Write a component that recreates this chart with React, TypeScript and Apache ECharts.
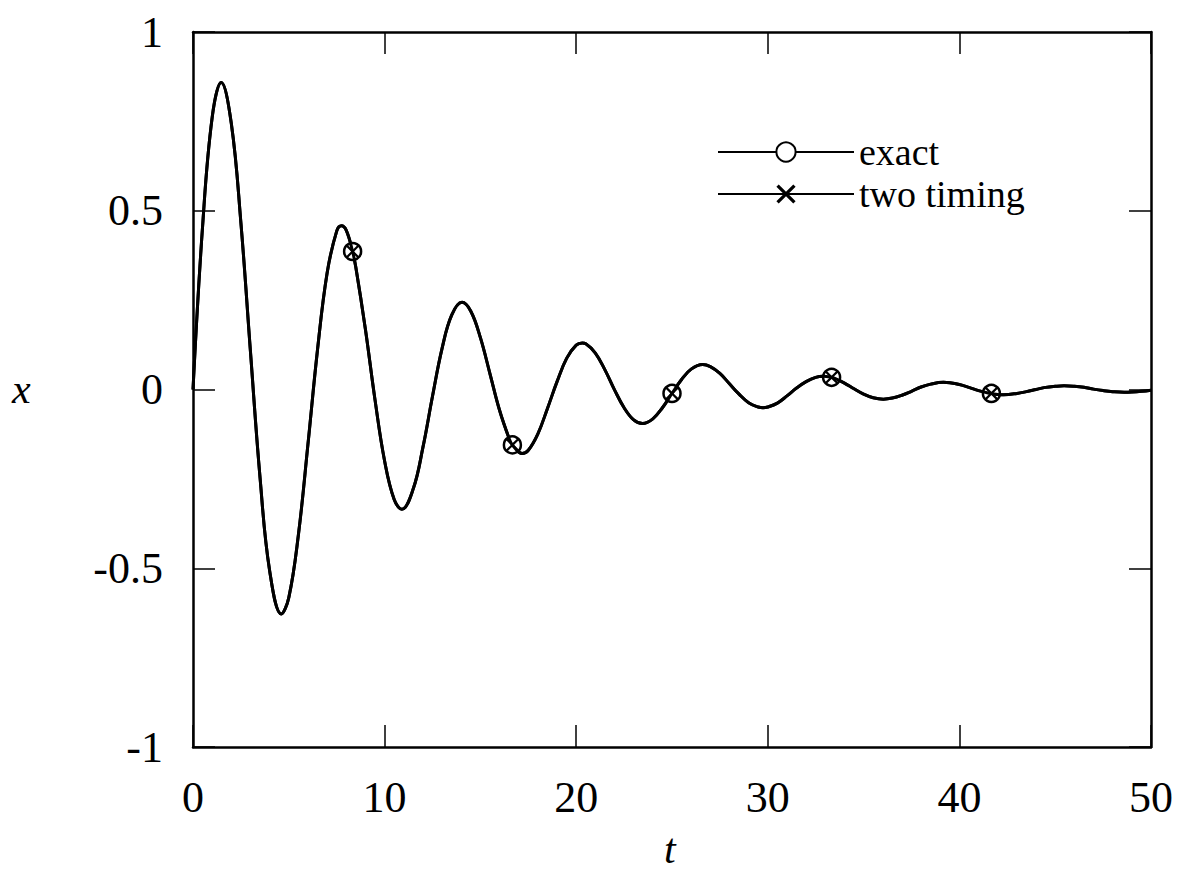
import React, { useEffect, useRef } from "react";
import * as echarts from "echarts";

// time samples (t) and read values of x (extrema included)
const tValues: number[] = [
  0, 0.5, 1, 1.47, 2, 2.5, 3, 3.5, 4, 4.61, 5, 5.5, 6, 6.5, 7, 7.5, 7.75, 8, 8.5, 9, 9.5,
  10, 10.5, 10.9, 11.5, 12, 12.5, 13, 13.5, 14.04, 14.5, 15, 15.5, 16, 16.5, 17.18, 17.5, 18, 18.5, 19, 19.5,
  20, 20.32, 20.5, 21, 21.5, 22, 22.5, 23, 23.46, 24, 24.5, 25, 25.5, 26, 26.6, 27, 27.5, 28, 28.5, 29, 29.5, 29.75,
  30, 30.5, 31, 31.5, 32, 32.5, 32.89, 33.5, 34, 34.5, 35, 35.5, 36.03, 36.5, 37, 37.5, 38, 38.5, 39.17, 39.5,
  40, 40.5, 41, 41.5, 42, 42.31, 43, 43.5, 44, 44.5, 45, 45.46, 46, 46.5, 47, 47.5, 48, 48.6, 49, 49.5, 50,
];
const exactValues: number[] = [
  0, 0.456, 0.761, 0.859, 0.744, 0.466, 0.105, -0.247, -0.507, -0.628, -0.582, -0.407, -0.153, 0.112, 0.326, 0.443, 0.458, 0.445, 0.341, 0.168, -0.029,
  -0.2, -0.308, -0.335, -0.277, -0.162, -0.019, 0.115, 0.208, 0.244, 0.219, 0.145, 0.044, -0.058, -0.137, -0.179, -0.17, -0.124, -0.053, 0.022, 0.087,
  0.124, 0.13, 0.128, 0.102, 0.055, -0.001, -0.051, -0.085, -0.095, -0.082, -0.051, -0.011, 0.028, 0.057, 0.07, 0.064, 0.045, 0.016, -0.013, -0.037, -0.049, -0.051,
  -0.049, -0.038, -0.018, 0.004, 0.022, 0.034, 0.037, 0.031, 0.018, 0.002, -0.013, -0.023, -0.027, -0.024, -0.016, -0.005, 0.007, 0.015, 0.02, 0.019,
  0.014, 0.006, -0.003, -0.01, -0.014, -0.0145, -0.011, -0.006, 0.0, 0.006, 0.009, 0.0105, 0.009, 0.006, 0.001, -0.003, -0.006, -0.0077, -0.007, -0.005, -0.002,
];
const twoTimingValues: number[] = exactValues.slice();

// marker positions
const markerT: number[] = [8.33, 16.67, 25, 33.33, 41.67];
const markerExact: number[] = [0.386, -0.155, -0.011, 0.034, -0.011];
const markerTwoTiming: number[] = [0.386, -0.155, -0.011, 0.034, -0.011];

const xTicks = { min: 0, max: 50, interval: 10 };
const yTicks = { min: -1, max: 1, interval: 0.5 };

const FONT = "'Liberation Serif', 'Times New Roman', serif";

function buildData(vals: number[], mT: number[], mV: number[]) {
  const pts: any[] = [];
  tValues.forEach((t, i) => pts.push({ value: [t, vals[i]], symbol: "none" }));
  mT.forEach((t, i) => pts.push({ value: [t, mV[i]] }));
  pts.sort((a, b) => a.value[0] - b.value[0]);
  return pts;
}

const CROSS =
  "path://M0,1.2 L1.2,0 L5,3.8 L8.8,0 L10,1.2 L6.2,5 L10,8.8 L8.8,10 L5,6.2 L1.2,10 L0,8.8 L3.8,5 Z";

export default function App() {
  const ref = useRef<HTMLDivElement>(null);
  useEffect(() => {
    if (!ref.current) return;
    const chart = echarts.init(ref.current, null, { renderer: "svg" });
    const axisCommon = {
      type: "value" as const,
      axisLine: { show: true, onZero: false, lineStyle: { color: "#000", width: 2.5 } },
      axisTick: { show: true, inside: true, length: 22, lineStyle: { color: "#000", width: 1.5 } },
      splitLine: { show: false },
    };
    chart.setOption({
      animation: false,
      backgroundColor: "#fff",
      grid: { left: 193, right: 31, top: 32, bottom: 137 },
      legend: {
        show: true,
        orient: "vertical",
        left: 712,
        top: 128,
        itemWidth: 136,
        itemHeight: 24,
        itemGap: 4,
        textStyle: { fontFamily: FONT, fontSize: 38, color: "#000" },
        data: ["exact", "two timing"],
      },
      xAxis: [
        {
          ...axisCommon,
          position: "bottom",
          ...xTicks,
          axisLabel: { fontFamily: FONT, fontSize: 44, color: "#000", margin: 28 },
        },
        {
          ...axisCommon,
          position: "top",
          ...xTicks,
          axisLabel: { show: false },
        },
      ],
      yAxis: [
        {
          ...axisCommon,
          position: "left",
          ...yTicks,
          axisLabel: { fontFamily: FONT, fontSize: 44, color: "#000", margin: 30 },
        },
        {
          ...axisCommon,
          position: "right",
          ...yTicks,
          axisLabel: { show: false },
        },
      ],
      graphic: [
        {
          type: "text",
          left: 12,
          top: 368,
          style: { text: "x", fontFamily: FONT, fontStyle: "italic", fontSize: 42, fill: "#000" },
        },
        {
          type: "text",
          left: 664,
          top: 828,
          style: { text: "t", fontFamily: FONT, fontStyle: "italic", fontSize: 42, fill: "#000" },
        },
      ],
      series: [
        {
          name: "exact",
          type: "line",
          xAxisIndex: 0,
          yAxisIndex: 0,
          smooth: 0.4,
          symbol: "circle",
          symbolSize: 17,
          showSymbol: true,
          lineStyle: { color: "#000", width: 3 },
          itemStyle: { color: "#fff", borderColor: "#000", borderWidth: 2.5 },
          data: buildData(exactValues, markerT, markerExact),
          z: 2,
        },
        {
          name: "two timing",
          type: "line",
          xAxisIndex: 0,
          yAxisIndex: 0,
          smooth: 0.4,
          symbol: CROSS,
          symbolSize: 13,
          showSymbol: true,
          lineStyle: { color: "#000", width: 3 },
          itemStyle: { color: "#000" },
          data: buildData(twoTimingValues, markerT, markerTwoTiming),
          z: 3,
        },
      ],
    });
    return () => chart.dispose();
  }, []);
  return (
    <div
      ref={ref}
      style={{ position: "fixed", left: 0, top: 0, width: 1182, height: 884, background: "#fff" }}
    />
  );
}
